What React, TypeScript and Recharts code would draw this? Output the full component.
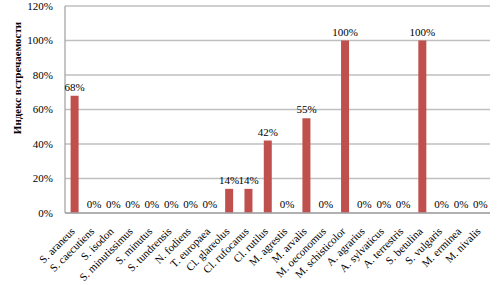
import React from "react";
import { ComposedChart, Bar, Line, XAxis, YAxis, CartesianGrid, LabelList } from "recharts";

const species = [
  "S. araneus", "S. caecutiens", "S. isodon", "S. minutissimus", "S. minutus",
  "S. tundrensis", "N. fodiens", "T. europaea", "Cl. glareolus", "Cl. rufocanus",
  "Cl. rutilus", "M. agrestis", "M. arvalis", "M. oeconomus", "M. schisticolor",
  "A. agrarius", "A. sylvaticus", "A. terrestris", "S. betulina", "S. vulgaris",
  "M. erminea", "M. nivalis",
];
const occurrence = [68, 0, 0, 0, 0, 0, 0, 0, 14, 14, 42, 0, 55, 0, 100, 0, 0, 0, 100, 0, 0, 0];
const yTicks = [0, 20, 40, 60, 80, 100, 120];

const data = species.map((name, i) => ({ name, value: occurrence[i] }));

const FONT = "'Liberation Serif', 'Times New Roman', serif";

const SpeciesTick = (props: any) => {
  const { x, y, payload } = props;
  return (
    <text
      x={x + 1}
      y={y + 11}
      transform={`rotate(-45 ${x + 1} ${y + 11})`}
      textAnchor="end"
      fontFamily={FONT}
      fontSize={11}
      fill="#000"
    >
      {payload.value}
    </text>
  );
};

const App: React.FC = () => {
  return (
    <div style={{ position: "absolute", left: 0, top: 0, width: 500, height: 285, background: "#fff" }}>
      <ComposedChart
        width={500}
        height={285}
        data={data}
        margin={{ top: 6, right: 10, bottom: 0, left: 20 }}
        barCategoryGap="29%"
      >
        <CartesianGrid vertical={false} stroke="#bfbfbf" strokeWidth={1.3} />
        <XAxis
          dataKey="name"
          interval={0}
          height={72}
          tickLine={false}
          axisLine={{ stroke: "#a6a6a6", strokeWidth: 1.3 }}
          tick={<SpeciesTick />}
        />
        <YAxis
          width={45}
          domain={[0, 120]}
          ticks={yTicks}
          tickFormatter={(v: number) => `${v}%`}
          tickLine={false}
          axisLine={{ stroke: "#a6a6a6", strokeWidth: 1.3 }}
          tick={{ fill: "#000", fontSize: 11, fontFamily: FONT }}
          tickMargin={6}
        />
        <Bar dataKey="value" fill="#c0504d" isAnimationActive={false} />
        <Line
          dataKey="value"
          stroke="none"
          dot={false}
          activeDot={false}
          legendType="none"
          isAnimationActive={false}
        >
          <LabelList
            dataKey="value"
            position="top"
            offset={5}
            formatter={(v: any) => `${v}%`}
            style={{ fill: "#000", fontSize: 11, fontFamily: FONT }}
          />
        </Line>
      </ComposedChart>
      <div
        style={{
          position: "absolute",
          left: 17,
          top: 78,
          transform: "translate(-50%, -50%) rotate(-90deg)",
          whiteSpace: "nowrap",
          fontFamily: FONT,
          fontWeight: "bold",
          fontSize: 11,
          color: "#000",
        }}
      >
        Индекс встречаемости
      </div>
    </div>
  );
};

export default App;
